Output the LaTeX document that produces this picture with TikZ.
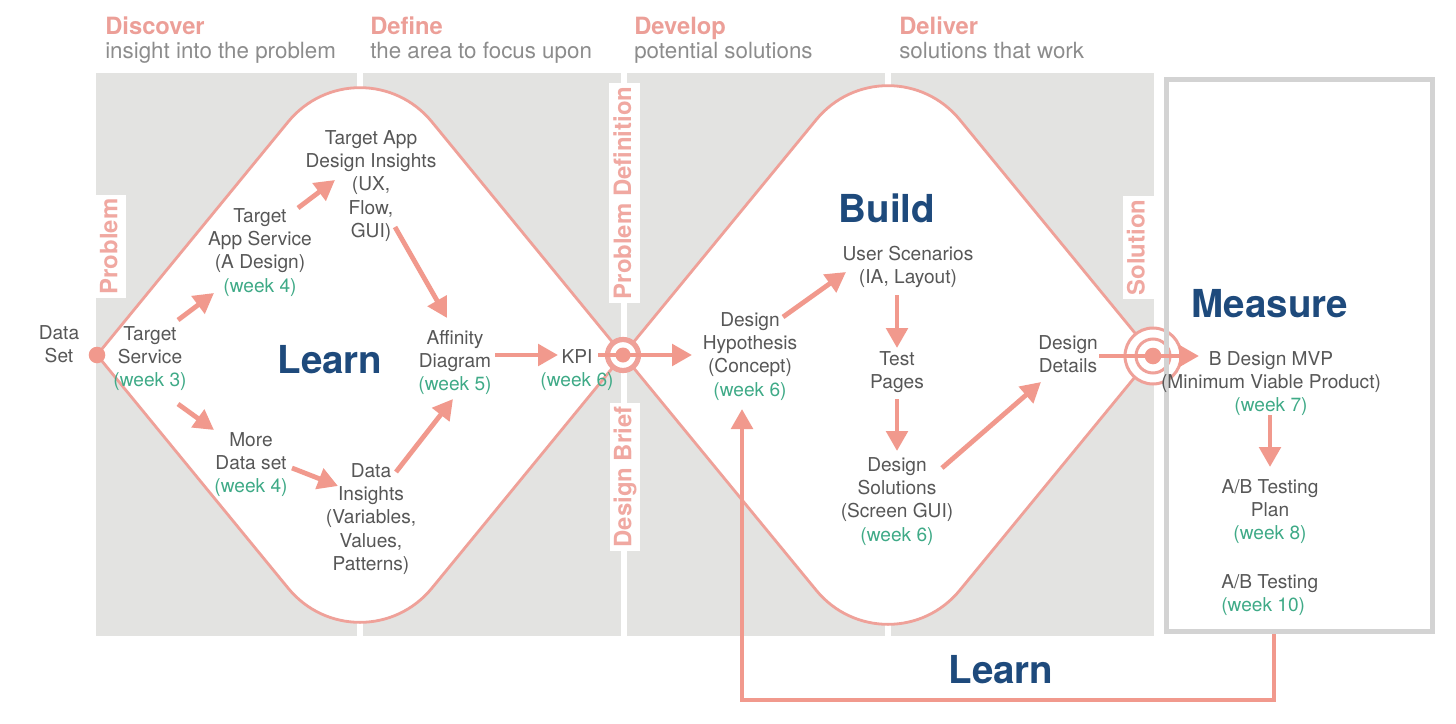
\documentclass[tikz,border=0pt]{standalone}
\usepackage{fontspec}
\setmainfont{TeX Gyre Heros}
\usepackage{tikz}
\usetikzlibrary{arrows.meta}
\usetikzlibrary{calc}

\definecolor{salmon}{HTML}{F1998D}
\definecolor{rimpink}{HTML}{EFA199}
\definecolor{phasepink}{HTML}{EC9F98}
\definecolor{sidepink}{HTML}{F0A8A1}
\definecolor{panel}{HTML}{E3E3E1}
\definecolor{boxgray}{HTML}{D3D3D3}
\definecolor{ink}{HTML}{575757}
\definecolor{subgray}{HTML}{8C8C8C}
\definecolor{week}{HTML}{3FAA87}
\definecolor{navy}{HTML}{1E4A7C}

\tikzset{
    >={Triangle[length=5mm,width=5.3mm]},
    flow/.style={draw=salmon, line width=1.2mm, ->},
    rimline/.style={draw=rimpink, line width=0.7mm, fill=white},
    itemtext/.style={text=ink, align=center, anchor=north, inner sep=0pt,
        font=\fontsize{13.6}{16.6}\selectfont},
    phasetitle/.style={text=phasepink, anchor=base west, inner sep=0pt,
        font=\bfseries\fontsize{16.9}{18}\selectfont},
    phasesub/.style={text=subgray, anchor=base west, inner sep=0pt,
        font=\fontsize{15.9}{18}\selectfont},
    sidelabel/.style={fill=white, text=sidepink, rotate=90, inner xsep=0.9mm,
        inner ysep=1mm, text height=4.4mm, text depth=1.2mm,
        font=\bfseries\fontsize{17}{17}\selectfont},
    stagelabel/.style={text=navy, inner sep=0pt,
        font=\bfseries\fontsize{27.4}{30}\selectfont},
}

\begin{document}
\begin{tikzpicture}[x=0.25mm, y=-0.25mm]
\useasboundingbox (0,0) rectangle (1456,724);
% grey phase panels
\fill[panel] (96,73) rectangle (1154,636);
\draw[white, line width=1.5mm] (360,73) -- (360,636);
\draw[white, line width=1.6mm] (624,73) -- (624,636);
\draw[white, line width=1.5mm] (888,73) -- (888,636);
% double diamond
\draw[rimline] (97,355) -- (288,122) .. controls (325.4,76.2) and (394.6,76.2) .. (432,122)
    -- (623,355) -- (432,588) .. controls (394.6,633.8) and (325.4,633.8) .. (288,588) -- cycle;
\draw[rimline] (623,355) -- (816,120) .. controls (853.4,74.2) and (922.6,74.2) .. (960,120)
    -- (1153,355) -- (960,590) .. controls (922.6,635.8) and (853.4,635.8) .. (816,590) -- cycle;
% labels on the grey
\node[sidelabel] (prob) at (111,246.5) {Problem};
\node[sidelabel] (pdef) at (624.6,193) {Problem Definition};
\node[sidelabel] (brief) at (625,477) {Design Brief};
\node[sidelabel] (solu) at (1138.3,247.5) {Solution};
% start dot and targets
\fill[salmon] (97,355) circle (8.3);
\draw[rimpink, line width=1.3mm, fill=white] (623,355) circle (15.5);
\fill[salmon] (623,355) circle (7.5);
\draw[rimpink, line width=0.75mm, fill=white] (1153,356) circle (28);
\draw[rimpink, line width=0.75mm] (1153,356) circle (17);
\fill[salmon] (1153,356) circle (8.3);
% measure box
\node[draw=boxgray, line width=1.25mm, minimum width=66.5mm, minimum height=138mm,
    inner sep=0pt] (mbox) at (1299.5,355.5) {};
% headings
\node[phasetitle] (disc) at (105,34) {Discover};
\node[phasesub] (discsub) at (105,58) {insight into the problem};
\node[phasetitle] (defi) at (370,34) {Define};
\node[phasesub] (defisub) at (370,58) {the area to focus upon};
\node[phasetitle] (devel) at (634,34) {Develop};
\node[phasesub] (develsub) at (634,58) {potential solutions};
\node[phasetitle] (deliv) at (899,34) {Deliver};
\node[phasesub] (delivsub) at (899,58) {solutions that work};
% steps
\node[itemtext] (data) at (59,325) {Data\\Set};
\node[itemtext] (tsvc) at (150,326) {Target\\Service\\\textcolor{week}{(week 3)}};
\node[itemtext] (tapp) at (260,208) {Target\\App Service\\(A Design)\\\textcolor{week}{(week 4)}};
\node[itemtext] (tins) at (371,130) {Target App\\Design Insights\\(UX,\\Flow,\\GUI)};
\node[itemtext] (aff) at (455,330) {Affinity\\Diagram\\\textcolor{week}{(week 5)}};
\node[itemtext] (kpi) at (577,349) {KPI\\\textcolor{week}{(week 6)}};
\node[itemtext] (more) at (251,432) {More\\Data set\\\textcolor{week}{(week 4)}};
\node[itemtext] (dins) at (371,463) {Data\\Insights\\(Variables,\\Values,\\Patterns)};
\node[itemtext] (hyp) at (750,312) {Design\\Hypothesis\\(Concept)\\\textcolor{week}{(week 6)}};
\node[itemtext] (scen) at (908,246) {User Scenarios\\(IA, Layout)};
\node[itemtext] (test) at (897,351) {Test\\Pages};
\node[itemtext] (sol) at (897,457) {Design\\Solutions\\(Screen GUI)\\\textcolor{week}{(week 6)}};
\node[itemtext] (det) at (1068,335) {Design\\Details};
\node[itemtext] (mvp) at (1271,351) {B Design MVP\\(Minimum Viable Product)\\\textcolor{week}{(week 7)}};
\node[itemtext] (plan) at (1270,479) {A/B Testing\\Plan\\\textcolor{week}{(week 8)}};
\node[itemtext, anchor=north west, align=left] (abt) at (1221,574) {A/B Testing\\\textcolor{week}{(week 10)}};
% big words
\node[stagelabel] (learn) at (330,360) {Learn};
\node[stagelabel] (build) at (887,208) {Build};
\node[stagelabel] (measure) at (1270,304) {Measure};
\node[stagelabel] (relearn) at (1001,670) {Learn};
% arrows
\draw[flow] ([shift={(28,-6)}]tsvc.north) -- ([shift={(-46,85)}]tapp.north);
\draw[flow] ([shift={(38,0)}]tapp.north) -- ([shift={(-36,50)}]tins.north);
\draw[flow] ([shift={(24,97)}]tins.north) -- ([shift={(-8,-12)}]aff.north);
\draw[flow] ([shift={(28,78)}]tsvc.north) -- ([shift={(-37,-2)}]more.north);
\draw[flow] ([shift={(41,36)}]more.north) -- ([shift={(-33,23)}]dins.north);
\draw[flow] ([shift={(25,9)}]dins.north) -- ([shift={(-2,69)}]aff.north);
\draw[flow] ([shift={(40,25)}]aff.north) -- ([shift={(-19,6)}]kpi.north);
\draw[flow] ([shift={(21,6)}]kpi.north) -- ([shift={(-58,43)}]hyp.north);
\draw[flow] ([shift={(33,5)}]hyp.north) -- ([shift={(-62,26)}]scen.north);
\draw[flow] ([shift={(-11,49)}]scen.north) -- ([shift={(0,-3)}]test.north);
\draw[flow] ([shift={(0,48)}]test.north) -- ([shift={(0,-6)}]sol.north);
\draw[flow] ([shift={(45,11)}]sol.north) -- ([shift={(-27,47)}]det.north);
\draw[flow] ([shift={(31,21)}]det.north) -- ([shift={(-72,5)}]mvp.north);
\draw[flow] ([shift={(-1,64)}]mvp.north) -- ([shift={(0,-12)}]plan.north);
\draw[flow] ([shift={(-25.5,0)}]mbox.south) -- ++(0,66) -| ([shift={(-8,97)}]hyp.north);
\end{tikzpicture}
\end{document}
